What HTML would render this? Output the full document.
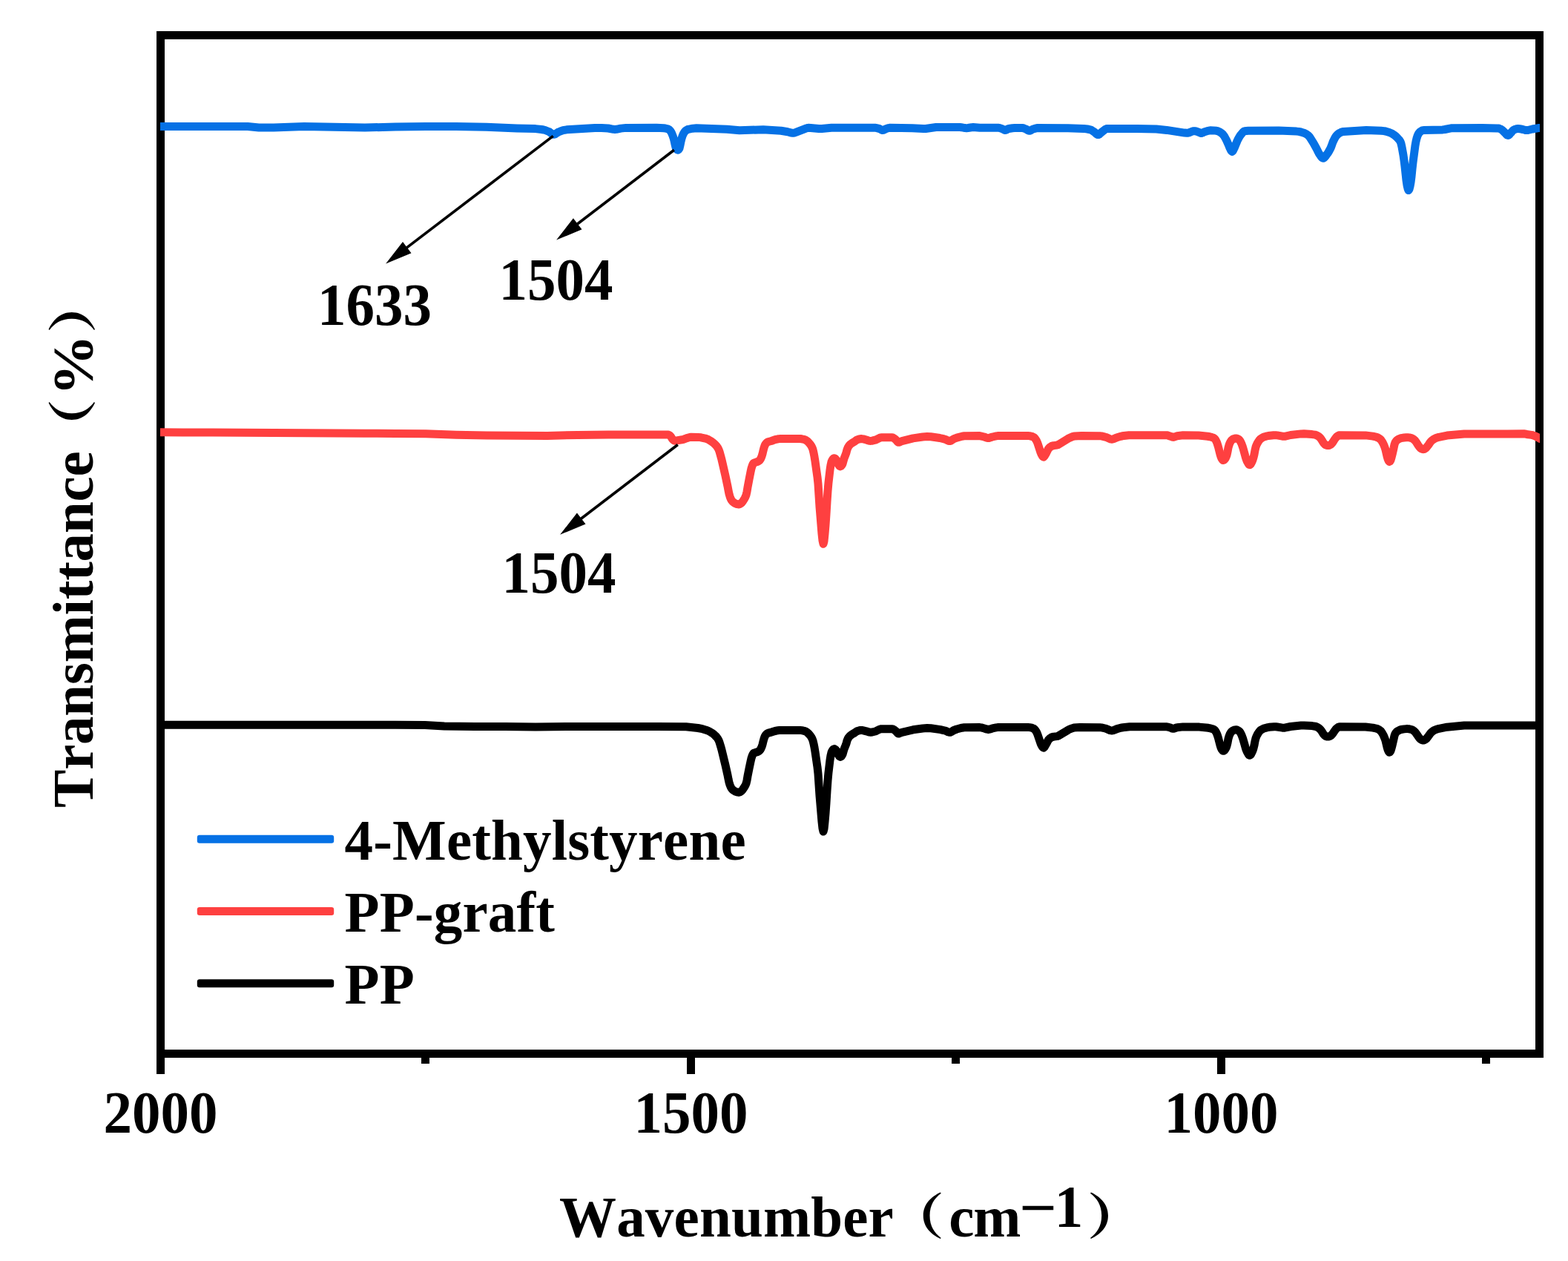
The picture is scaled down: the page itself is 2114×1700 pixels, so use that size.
<!DOCTYPE html>
<html lang="en">
<head>
<meta charset="utf-8">
<title>FTIR spectra</title>
<style>
html,body{margin:0;padding:0;background:#fff;}
body{width:2114px;height:1700px;overflow:hidden;}
svg{display:block;}
text{font-family:"Liberation Serif","Noto Serif CJK SC",serif;font-weight:bold;font-size:77px;fill:#000;font-kerning:none;font-variant-ligatures:none;white-space:pre;}
.cjk{font-family:"Noto Serif CJK SC","Liberation Serif",serif;font-weight:900;}
.curve{fill:none;stroke-width:11;stroke-linejoin:round;stroke-linecap:butt;}
</style>
</head>
<body>
<svg width="2114" height="1700" viewBox="0 0 2114 1700">
<rect x="0" y="0" width="2114" height="1700" fill="#fff"/>

<g fill="#000" shape-rendering="crispEdges">
<rect x="211" y="42" width="1870" height="11"/>
<rect x="211" y="1415" width="1870" height="11"/>
<rect x="211" y="42" width="11" height="1406"/>
<rect x="2070" y="42" width="11" height="1384"/>
<rect x="926" y="1415" width="11" height="33"/>
<rect x="1641" y="1415" width="11" height="33"/>
<rect x="568" y="1415" width="11" height="19"/>
<rect x="1283" y="1415" width="11" height="19"/>
<rect x="1998" y="1415" width="11" height="19"/>
</g>
<clipPath id="plotclip"><rect x="216" y="53" width="1860" height="1362"/></clipPath>
<g clip-path="url(#plotclip)">
<path class="curve" stroke="#000" d="M205.0,977.3 L246.0,977.3 L287.0,977.3 L328.0,977.3 L369.0,977.3 L410.0,977.3 L451.0,977.3 L492.0,977.3 L533.0,977.3 L573.0,977.4 L599.0,979.0 L640.0,979.4 L681.0,979.6 L722.0,980.1 L763.0,979.4 L804.0,979.4 L845.0,979.5 L886.0,979.6 L925.0,979.8 L941.0,981.5 L947.0,982.7 L952.0,984.2 L954.0,984.9 L957.0,986.4 L960.0,988.2 L962.0,989.7 L964.0,991.5 L966.0,993.5 L967.0,994.8 L968.0,996.3 L969.0,998.1 L970.0,1000.7 L972.0,1007.4 L973.0,1011.0 L978.0,1031.6 L981.0,1045.0 L982.0,1050.2 L983.0,1054.8 L984.0,1058.0 L985.0,1060.6 L986.0,1062.5 L987.0,1063.8 L988.0,1064.8 L989.0,1065.6 L991.0,1066.8 L992.0,1067.3 L994.0,1067.9 L995.0,1068.1 L996.0,1068.2 L997.0,1068.1 L998.0,1067.6 L1000.0,1066.1 L1001.0,1064.9 L1004.0,1060.4 L1005.0,1058.6 L1006.0,1056.2 L1007.0,1052.0 L1008.0,1046.2 L1010.0,1036.2 L1012.0,1026.6 L1013.0,1022.2 L1014.0,1019.2 L1015.0,1016.9 L1016.0,1015.5 L1017.0,1015.0 L1020.0,1014.1 L1022.0,1013.3 L1023.0,1012.7 L1024.0,1012.0 L1025.0,1010.8 L1026.0,1009.0 L1027.0,1006.8 L1028.0,1003.6 L1029.0,999.5 L1030.0,995.9 L1031.0,993.1 L1032.0,991.2 L1033.0,990.0 L1034.0,989.1 L1035.0,988.5 L1036.0,988.1 L1040.0,987.1 L1045.0,985.5 L1049.0,984.7 L1051.0,984.4 L1079.0,984.4 L1081.0,984.6 L1084.0,985.3 L1086.0,986.0 L1087.0,986.5 L1088.0,987.1 L1089.0,988.0 L1091.0,990.0 L1092.0,991.2 L1093.0,992.5 L1094.0,994.0 L1095.0,996.0 L1096.0,998.6 L1097.0,1002.7 L1098.0,1007.7 L1099.0,1013.6 L1102.0,1034.2 L1103.0,1043.1 L1105.0,1072.7 L1108.0,1108.0 L1109.0,1116.8 L1110.0,1121.1 L1111.0,1117.4 L1112.0,1108.0 L1113.0,1096.6 L1114.0,1082.3 L1115.0,1066.2 L1116.0,1052.2 L1117.0,1041.3 L1119.0,1024.7 L1120.0,1018.5 L1121.0,1014.3 L1122.0,1012.1 L1123.0,1010.7 L1124.0,1009.8 L1125.0,1009.6 L1126.0,1010.2 L1127.0,1011.2 L1128.0,1012.5 L1129.0,1014.6 L1130.0,1017.1 L1131.0,1018.7 L1132.0,1019.9 L1133.0,1020.4 L1134.0,1019.9 L1135.0,1018.7 L1136.0,1016.9 L1138.0,1010.0 L1140.0,1005.0 L1141.0,1002.3 L1142.0,998.5 L1143.0,996.1 L1144.0,994.4 L1145.0,993.1 L1146.0,992.0 L1147.0,991.2 L1149.0,989.8 L1152.0,988.1 L1154.0,986.6 L1155.0,986.0 L1156.0,985.5 L1158.0,984.9 L1160.0,984.5 L1161.0,984.4 L1162.0,984.4 L1164.0,984.8 L1168.0,985.8 L1171.0,986.8 L1172.0,987.0 L1173.0,987.2 L1174.0,987.2 L1176.0,987.0 L1180.0,986.0 L1181.0,985.7 L1186.0,983.2 L1187.0,982.9 L1188.0,982.7 L1203.0,982.7 L1204.0,983.0 L1205.0,983.6 L1207.0,985.0 L1208.0,985.9 L1210.0,988.2 L1211.0,988.9 L1212.0,988.9 L1213.0,988.6 L1215.0,987.7 L1216.0,987.3 L1231.0,983.8 L1244.0,982.0 L1250.0,981.6 L1255.0,981.8 L1268.0,983.6 L1274.0,985.0 L1275.0,985.3 L1278.0,986.7 L1279.0,987.0 L1280.0,987.3 L1281.0,987.3 L1282.0,986.9 L1283.0,986.4 L1285.0,985.0 L1286.0,984.5 L1290.0,983.0 L1297.0,981.2 L1300.0,980.7 L1321.0,980.6 L1323.0,980.9 L1327.0,982.0 L1330.0,983.0 L1331.0,983.2 L1332.0,983.4 L1333.0,983.4 L1334.0,983.2 L1338.0,981.9 L1343.0,980.9 L1345.0,980.6 L1386.0,980.4 L1388.0,980.6 L1391.0,981.2 L1392.0,981.6 L1393.0,982.0 L1394.0,982.5 L1395.0,983.4 L1396.0,984.6 L1397.0,986.2 L1398.0,988.0 L1399.0,990.5 L1403.0,1002.2 L1404.0,1004.5 L1405.0,1006.2 L1406.0,1007.6 L1407.0,1008.1 L1408.0,1007.3 L1410.0,1004.0 L1411.0,1002.2 L1413.0,998.2 L1414.0,996.8 L1415.0,995.9 L1416.0,995.1 L1417.0,994.4 L1418.0,993.8 L1419.0,993.5 L1421.0,993.1 L1425.0,992.6 L1426.0,992.4 L1427.0,992.0 L1440.0,984.2 L1442.0,983.2 L1446.0,981.7 L1448.0,981.1 L1456.0,980.5 L1483.0,980.7 L1485.0,980.9 L1490.0,982.0 L1491.0,982.3 L1496.0,984.4 L1497.0,984.7 L1498.0,984.9 L1499.0,985.0 L1500.0,984.9 L1501.0,984.7 L1503.0,983.9 L1506.0,982.6 L1511.0,981.2 L1514.0,980.7 L1523.0,979.8 L1564.0,979.7 L1572.0,979.7 L1573.0,979.8 L1575.0,980.2 L1578.0,981.1 L1580.0,982.0 L1581.0,982.2 L1582.0,982.3 L1583.0,982.1 L1586.0,981.0 L1587.0,980.8 L1595.0,979.9 L1617.0,980.1 L1629.0,981.3 L1632.0,981.9 L1635.0,982.8 L1636.0,983.2 L1637.0,983.8 L1638.0,984.7 L1639.0,986.1 L1640.0,988.0 L1641.0,990.2 L1642.0,993.3 L1643.0,996.8 L1645.0,1004.6 L1646.0,1007.7 L1647.0,1010.0 L1648.0,1011.4 L1649.0,1012.3 L1650.0,1012.2 L1651.0,1011.3 L1652.0,1010.0 L1653.0,1008.2 L1654.0,1005.6 L1655.0,1001.4 L1656.0,996.0 L1657.0,992.6 L1658.0,990.0 L1659.0,988.2 L1660.0,986.8 L1661.0,985.7 L1662.0,985.0 L1664.0,984.2 L1665.0,984.0 L1666.0,983.8 L1667.0,983.8 L1668.0,984.1 L1669.0,984.6 L1670.0,985.2 L1671.0,985.9 L1672.0,987.3 L1673.0,989.0 L1674.0,991.1 L1675.0,993.8 L1676.0,996.8 L1679.0,1007.3 L1680.0,1010.5 L1681.0,1013.0 L1682.0,1014.9 L1683.0,1016.7 L1684.0,1017.9 L1685.0,1018.3 L1686.0,1017.6 L1687.0,1016.1 L1688.0,1014.1 L1689.0,1011.8 L1690.0,1008.7 L1691.0,1004.7 L1692.0,999.3 L1693.0,995.2 L1694.0,992.6 L1695.0,990.6 L1696.0,988.9 L1697.0,987.3 L1698.0,986.0 L1699.0,984.9 L1700.0,984.1 L1702.0,983.0 L1704.0,982.1 L1708.0,980.9 L1711.0,980.3 L1718.0,979.7 L1720.0,979.7 L1722.0,980.0 L1729.0,981.2 L1731.0,981.3 L1732.0,981.2 L1740.0,979.5 L1754.0,978.0 L1758.0,977.9 L1769.0,978.6 L1773.0,979.2 L1774.0,979.4 L1775.0,979.8 L1777.0,980.9 L1778.0,981.5 L1779.0,982.3 L1780.0,983.3 L1781.0,984.5 L1782.0,985.9 L1784.0,989.2 L1785.0,990.4 L1786.0,991.5 L1787.0,992.3 L1788.0,992.7 L1789.0,993.0 L1790.0,993.1 L1791.0,993.0 L1792.0,992.8 L1793.0,992.5 L1794.0,991.9 L1795.0,991.1 L1796.0,990.0 L1797.0,988.8 L1799.0,985.7 L1801.0,983.0 L1802.0,981.9 L1804.0,980.5 L1805.0,980.0 L1806.0,979.7 L1841.0,980.0 L1851.0,981.1 L1855.0,982.0 L1857.0,982.6 L1858.0,983.0 L1859.0,983.6 L1860.0,984.2 L1861.0,985.0 L1862.0,986.0 L1863.0,987.5 L1864.0,989.1 L1865.0,990.9 L1866.0,993.1 L1867.0,995.6 L1868.0,998.6 L1870.0,1007.0 L1871.0,1010.5 L1872.0,1012.8 L1873.0,1014.2 L1874.0,1013.8 L1875.0,1012.1 L1876.0,1008.9 L1877.0,1005.1 L1879.0,996.6 L1880.0,991.9 L1881.0,989.2 L1882.0,987.7 L1883.0,986.6 L1884.0,985.8 L1886.0,984.7 L1888.0,983.8 L1889.0,983.5 L1893.0,982.9 L1896.0,982.6 L1898.0,982.6 L1900.0,982.8 L1903.0,983.5 L1904.0,983.9 L1905.0,984.5 L1906.0,985.2 L1908.0,987.0 L1909.0,988.3 L1912.0,992.7 L1914.0,995.4 L1915.0,996.4 L1916.0,997.1 L1917.0,997.6 L1918.0,998.0 L1919.0,998.1 L1920.0,997.9 L1921.0,997.4 L1922.0,996.8 L1923.0,996.0 L1926.0,992.2 L1928.0,989.3 L1929.0,988.0 L1930.0,987.1 L1932.0,985.5 L1934.0,984.3 L1936.0,983.5 L1940.0,982.3 L1951.0,980.2 L1974.0,978.1 L2015.0,978.1 L2056.0,977.9 L2090.0,977.9"/>
<path class="curve" stroke="#fe4040" d="M205.0,582.7 L246.0,583.0 L287.0,583.1 L328.0,583.3 L369.0,583.5 L410.0,583.7 L451.0,584.0 L492.0,584.2 L533.0,584.5 L574.0,584.8 L615.0,586.3 L656.0,586.9 L697.0,587.3 L738.0,587.4 L779.0,586.4 L820.0,586.1 L861.0,585.9 L901.0,586.1 L902.0,586.4 L903.0,587.1 L904.0,588.0 L905.0,589.4 L906.0,591.2 L907.0,592.5 L908.0,593.2 L909.0,593.9 L910.0,594.2 L911.0,594.2 L921.0,592.5 L922.0,592.2 L926.0,590.6 L930.0,589.5 L932.0,589.2 L941.0,589.4 L945.0,589.8 L951.0,591.1 L953.0,591.7 L955.0,592.6 L959.0,595.0 L961.0,596.4 L963.0,598.1 L965.0,600.1 L966.0,601.2 L967.0,602.6 L968.0,604.1 L969.0,606.1 L970.0,608.8 L972.0,615.9 L973.0,619.7 L978.0,641.4 L981.0,655.6 L982.0,661.0 L983.0,665.9 L984.0,669.3 L985.0,672.0 L986.0,674.0 L987.0,675.4 L988.0,676.5 L989.0,677.3 L990.0,678.0 L991.0,678.6 L992.0,679.0 L994.0,679.7 L995.0,679.9 L996.0,680.0 L997.0,679.9 L998.0,679.3 L999.0,678.6 L1000.0,677.8 L1001.0,676.6 L1004.0,671.8 L1005.0,669.9 L1006.0,667.3 L1007.0,662.9 L1008.0,656.9 L1010.0,646.2 L1012.0,636.1 L1013.0,631.5 L1014.0,628.4 L1015.0,625.9 L1016.0,624.4 L1017.0,623.9 L1020.0,622.9 L1022.0,622.1 L1023.0,621.5 L1024.0,620.7 L1025.0,619.5 L1026.0,617.6 L1027.0,615.2 L1028.0,611.9 L1029.0,607.5 L1030.0,603.7 L1031.0,600.8 L1032.0,598.8 L1033.0,597.5 L1034.0,596.6 L1035.0,595.9 L1036.0,595.5 L1040.0,594.5 L1045.0,592.7 L1049.0,591.8 L1051.0,591.6 L1079.0,591.5 L1081.0,591.8 L1084.0,592.4 L1086.0,593.2 L1087.0,593.7 L1088.0,594.4 L1089.0,595.2 L1091.0,597.4 L1092.0,598.6 L1093.0,599.9 L1094.0,601.5 L1095.0,603.5 L1096.0,606.2 L1097.0,610.5 L1098.0,615.8 L1099.0,621.9 L1102.0,643.2 L1103.0,652.4 L1105.0,683.2 L1108.0,719.7 L1109.0,728.9 L1110.0,733.3 L1111.0,729.5 L1112.0,719.7 L1113.0,707.9 L1114.0,693.1 L1115.0,676.3 L1116.0,661.9 L1117.0,650.5 L1119.0,633.4 L1120.0,626.9 L1121.0,622.5 L1122.0,620.3 L1123.0,618.8 L1124.0,617.9 L1125.0,617.7 L1126.0,618.3 L1127.0,619.4 L1128.0,620.7 L1129.0,622.8 L1130.0,625.4 L1131.0,627.1 L1132.0,628.4 L1133.0,628.9 L1134.0,628.3 L1135.0,627.1 L1136.0,625.3 L1138.0,618.1 L1140.0,613.0 L1141.0,610.1 L1142.0,606.2 L1143.0,603.7 L1144.0,601.9 L1145.0,600.5 L1146.0,599.4 L1147.0,598.5 L1149.0,597.2 L1152.0,595.3 L1154.0,593.8 L1155.0,593.2 L1156.0,592.7 L1158.0,592.1 L1160.0,591.6 L1161.0,591.5 L1162.0,591.6 L1164.0,591.9 L1168.0,593.0 L1171.0,594.0 L1172.0,594.3 L1173.0,594.4 L1174.0,594.4 L1176.0,594.2 L1180.0,593.2 L1181.0,592.9 L1186.0,590.3 L1187.0,590.0 L1188.0,589.8 L1203.0,589.8 L1204.0,590.1 L1205.0,590.7 L1207.0,592.2 L1208.0,593.1 L1210.0,595.5 L1211.0,596.2 L1212.0,596.3 L1213.0,595.9 L1215.0,595.0 L1216.0,594.6 L1231.0,590.9 L1244.0,589.0 L1250.0,588.6 L1255.0,588.8 L1267.0,590.5 L1273.0,591.9 L1275.0,592.5 L1278.0,593.9 L1279.0,594.3 L1280.0,594.5 L1281.0,594.5 L1282.0,594.2 L1283.0,593.6 L1285.0,592.2 L1286.0,591.6 L1290.0,590.1 L1297.0,588.2 L1300.0,587.7 L1321.0,587.6 L1322.0,587.8 L1327.0,589.0 L1330.0,590.1 L1331.0,590.3 L1332.0,590.5 L1333.0,590.5 L1334.0,590.3 L1338.0,589.0 L1343.0,587.9 L1345.0,587.6 L1386.0,587.4 L1388.0,587.6 L1391.0,588.3 L1392.0,588.6 L1393.0,589.1 L1394.0,589.6 L1395.0,590.5 L1396.0,591.8 L1397.0,593.4 L1398.0,595.3 L1399.0,597.8 L1403.0,610.0 L1404.0,612.4 L1405.0,614.2 L1406.0,615.6 L1407.0,616.1 L1408.0,615.3 L1410.0,611.9 L1411.0,610.0 L1413.0,605.8 L1414.0,604.4 L1415.0,603.4 L1416.0,602.6 L1417.0,601.9 L1418.0,601.3 L1419.0,601.0 L1421.0,600.6 L1425.0,600.1 L1426.0,599.8 L1427.0,599.4 L1440.0,591.4 L1442.0,590.3 L1446.0,588.7 L1448.0,588.2 L1449.0,588.0 L1458.0,587.4 L1483.0,587.7 L1485.0,587.9 L1490.0,589.1 L1491.0,589.3 L1496.0,591.5 L1497.0,591.9 L1498.0,592.1 L1499.0,592.2 L1500.0,592.1 L1501.0,591.8 L1503.0,591.1 L1506.0,589.7 L1511.0,588.3 L1513.0,587.8 L1522.0,586.8 L1563.0,586.7 L1572.0,586.7 L1573.0,586.7 L1575.0,587.2 L1578.0,588.2 L1580.0,589.0 L1581.0,589.3 L1582.0,589.4 L1583.0,589.2 L1586.0,588.1 L1587.0,587.8 L1595.0,586.8 L1616.0,587.0 L1628.0,588.2 L1631.0,588.7 L1634.0,589.6 L1636.0,590.3 L1637.0,590.9 L1638.0,591.8 L1639.0,593.3 L1640.0,595.2 L1641.0,597.6 L1642.0,600.8 L1643.0,604.4 L1645.0,612.4 L1646.0,615.7 L1647.0,618.1 L1648.0,619.5 L1649.0,620.5 L1650.0,620.4 L1651.0,619.4 L1652.0,618.1 L1653.0,616.2 L1654.0,613.5 L1655.0,609.1 L1656.0,603.6 L1657.0,600.0 L1658.0,597.3 L1659.0,595.5 L1660.0,594.0 L1661.0,592.9 L1662.0,592.2 L1664.0,591.4 L1665.0,591.1 L1666.0,590.9 L1667.0,591.0 L1668.0,591.3 L1669.0,591.7 L1670.0,592.3 L1671.0,593.1 L1672.0,594.5 L1673.0,596.4 L1674.0,598.5 L1675.0,601.3 L1676.0,604.4 L1679.0,615.3 L1680.0,618.6 L1681.0,621.2 L1682.0,623.2 L1683.0,625.0 L1684.0,626.3 L1685.0,626.7 L1686.0,626.0 L1687.0,624.4 L1688.0,622.3 L1689.0,620.0 L1690.0,616.7 L1691.0,612.6 L1692.0,607.0 L1693.0,602.7 L1694.0,600.0 L1695.0,597.9 L1696.0,596.2 L1697.0,594.6 L1698.0,593.2 L1699.0,592.1 L1700.0,591.3 L1702.0,590.0 L1704.0,589.1 L1707.0,588.2 L1710.0,587.5 L1717.0,586.7 L1720.0,586.7 L1722.0,586.9 L1729.0,588.2 L1731.0,588.3 L1732.0,588.3 L1740.0,586.5 L1754.0,584.9 L1758.0,584.8 L1769.0,585.6 L1773.0,586.1 L1774.0,586.4 L1775.0,586.8 L1777.0,587.9 L1778.0,588.5 L1779.0,589.4 L1780.0,590.4 L1781.0,591.7 L1782.0,593.1 L1784.0,596.5 L1785.0,597.8 L1786.0,598.9 L1787.0,599.7 L1788.0,600.1 L1789.0,600.4 L1790.0,600.6 L1791.0,600.5 L1792.0,600.3 L1793.0,599.9 L1794.0,599.4 L1795.0,598.5 L1796.0,597.4 L1797.0,596.1 L1799.0,592.9 L1801.0,590.1 L1802.0,589.0 L1804.0,587.5 L1805.0,586.9 L1806.0,586.7 L1841.0,586.9 L1851.0,588.1 L1855.0,589.0 L1857.0,589.7 L1858.0,590.1 L1859.0,590.7 L1860.0,591.4 L1861.0,592.2 L1862.0,593.2 L1863.0,594.7 L1864.0,596.4 L1865.0,598.3 L1866.0,600.5 L1867.0,603.1 L1868.0,606.2 L1870.0,615.0 L1871.0,618.6 L1872.0,621.0 L1873.0,622.4 L1874.0,622.0 L1875.0,620.3 L1876.0,616.9 L1877.0,613.0 L1879.0,604.2 L1880.0,599.3 L1881.0,596.5 L1882.0,595.0 L1883.0,593.8 L1884.0,593.0 L1886.0,591.8 L1888.0,590.9 L1889.0,590.6 L1893.0,590.0 L1896.0,589.7 L1898.0,589.7 L1900.0,589.9 L1903.0,590.6 L1904.0,591.0 L1905.0,591.6 L1906.0,592.4 L1908.0,594.2 L1909.0,595.6 L1912.0,600.2 L1914.0,602.9 L1915.0,604.0 L1916.0,604.7 L1917.0,605.3 L1918.0,605.6 L1919.0,605.7 L1920.0,605.5 L1921.0,605.0 L1922.0,604.4 L1923.0,603.5 L1926.0,599.6 L1928.0,596.6 L1929.0,595.3 L1930.0,594.3 L1932.0,592.7 L1934.0,591.5 L1936.0,590.6 L1940.0,589.3 L1951.0,587.1 L1974.0,585.0 L2015.0,585.0 L2055.0,584.8 L2056.0,584.9 L2060.0,585.8 L2065.0,586.4 L2067.0,586.9 L2070.0,588.0 L2073.0,589.5 L2075.0,590.6 L2076.0,591.3 L2077.0,591.7 L2082.0,593.0 L2086.0,593.7 L2089.0,594.0 L2090.0,594.0"/>
<path class="curve" stroke="#0571e5" d="M205.0,170.4 L246.0,170.4 L287.0,170.4 L328.0,170.4 L334.0,170.5 L349.0,171.9 L369.0,171.9 L410.0,170.6 L451.0,171.2 L492.0,172.0 L533.0,171.1 L574.0,170.4 L615.0,170.5 L656.0,171.3 L697.0,173.0 L722.0,173.6 L730.0,174.5 L733.0,175.0 L735.0,175.5 L740.0,177.5 L741.0,178.0 L744.0,180.3 L745.0,180.9 L746.0,181.2 L747.0,181.3 L748.0,181.0 L749.0,180.5 L752.0,178.5 L753.0,178.0 L757.0,176.4 L759.0,175.7 L764.0,174.8 L802.0,172.4 L811.0,172.4 L820.0,173.0 L827.0,174.3 L829.0,174.4 L831.0,174.3 L837.0,173.1 L844.0,172.4 L885.0,172.3 L895.0,172.8 L897.0,173.0 L899.0,173.5 L901.0,174.1 L902.0,174.7 L903.0,175.6 L904.0,176.7 L905.0,178.3 L906.0,180.5 L907.0,183.0 L908.0,185.9 L909.0,189.6 L910.0,194.4 L911.0,198.6 L912.0,200.9 L913.0,202.1 L914.0,202.2 L915.0,201.4 L916.0,199.9 L917.0,195.7 L918.0,190.7 L919.0,186.6 L920.0,183.5 L921.0,181.1 L922.0,179.2 L923.0,177.7 L924.0,176.6 L925.0,175.8 L926.0,175.2 L927.0,174.6 L928.0,174.3 L934.0,173.2 L939.0,172.8 L980.0,174.3 L997.0,175.8 L1029.0,174.7 L1053.0,176.3 L1062.0,177.8 L1067.0,179.1 L1068.0,179.2 L1069.0,179.3 L1070.0,179.2 L1071.0,179.1 L1073.0,178.4 L1086.0,173.3 L1088.0,172.7 L1089.0,172.5 L1090.0,172.3 L1093.0,172.4 L1104.0,173.4 L1108.0,173.5 L1121.0,172.3 L1162.0,172.3 L1180.0,172.3 L1181.0,172.4 L1183.0,172.8 L1185.0,173.3 L1186.0,173.7 L1188.0,174.8 L1189.0,175.3 L1190.0,175.5 L1191.0,175.4 L1192.0,175.0 L1194.0,173.9 L1195.0,173.5 L1198.0,172.6 L1200.0,172.3 L1230.0,172.8 L1245.0,173.6 L1248.0,173.5 L1262.0,171.5 L1294.0,171.4 L1296.0,171.7 L1301.0,172.6 L1303.0,172.7 L1305.0,172.5 L1310.0,171.7 L1312.0,171.6 L1321.0,172.3 L1346.0,172.3 L1347.0,172.4 L1348.0,172.6 L1351.0,173.7 L1354.0,175.2 L1355.0,175.5 L1356.0,175.4 L1357.0,175.0 L1359.0,173.8 L1360.0,173.5 L1365.0,172.7 L1368.0,172.5 L1378.0,172.5 L1379.0,172.5 L1380.0,172.8 L1383.0,174.0 L1384.0,174.5 L1386.0,175.7 L1387.0,176.1 L1388.0,176.3 L1389.0,176.1 L1390.0,175.6 L1392.0,174.4 L1393.0,174.0 L1397.0,172.9 L1399.0,172.5 L1440.0,172.7 L1461.0,173.4 L1466.0,174.0 L1470.0,174.8 L1471.0,175.2 L1472.0,175.7 L1476.0,178.4 L1478.0,180.3 L1479.0,181.2 L1480.0,181.6 L1481.0,181.6 L1482.0,181.1 L1483.0,180.2 L1485.0,178.4 L1489.0,175.2 L1490.0,174.5 L1491.0,173.9 L1492.0,173.6 L1533.0,173.4 L1559.0,174.1 L1573.0,175.4 L1597.0,179.1 L1600.0,179.3 L1601.0,179.3 L1602.0,179.1 L1603.0,178.9 L1607.0,177.2 L1608.0,176.9 L1609.0,176.7 L1610.0,176.6 L1611.0,176.7 L1614.0,177.4 L1615.0,177.7 L1618.0,179.1 L1619.0,179.4 L1620.0,179.4 L1621.0,179.1 L1624.0,177.8 L1629.0,176.3 L1631.0,175.9 L1632.0,175.8 L1636.0,175.9 L1640.0,176.3 L1641.0,176.5 L1642.0,176.8 L1644.0,177.7 L1645.0,178.2 L1646.0,178.9 L1647.0,179.6 L1648.0,180.5 L1649.0,181.5 L1650.0,182.8 L1651.0,184.3 L1653.0,188.0 L1654.0,190.0 L1657.0,196.9 L1658.0,199.4 L1659.0,201.5 L1660.0,203.3 L1661.0,204.4 L1662.0,203.6 L1663.0,201.9 L1664.0,199.9 L1668.0,190.1 L1669.0,188.0 L1671.0,184.4 L1672.0,182.8 L1675.0,179.1 L1676.0,178.0 L1677.0,177.2 L1678.0,176.8 L1683.0,176.3 L1724.0,176.0 L1748.0,177.1 L1751.0,177.4 L1754.0,178.0 L1757.0,178.9 L1759.0,179.7 L1761.0,180.7 L1763.0,182.0 L1764.0,182.8 L1765.0,183.8 L1766.0,185.1 L1771.0,193.1 L1775.0,200.4 L1778.0,206.4 L1779.0,208.0 L1781.0,210.9 L1782.0,212.2 L1783.0,213.0 L1784.0,213.3 L1785.0,212.9 L1786.0,212.0 L1787.0,210.8 L1790.0,206.6 L1791.0,205.1 L1792.0,203.4 L1794.0,199.6 L1795.0,197.1 L1797.0,191.5 L1799.0,187.4 L1800.0,185.5 L1801.0,183.9 L1802.0,182.6 L1803.0,181.6 L1804.0,180.7 L1805.0,179.9 L1806.0,179.3 L1808.0,178.3 L1810.0,177.6 L1811.0,177.4 L1842.0,175.6 L1862.0,176.2 L1866.0,176.6 L1868.0,177.0 L1873.0,178.5 L1876.0,179.8 L1878.0,180.9 L1880.0,182.3 L1882.0,183.9 L1884.0,185.9 L1886.0,188.1 L1887.0,189.3 L1888.0,190.9 L1889.0,193.7 L1890.0,198.1 L1892.0,209.3 L1893.0,216.2 L1894.0,224.2 L1896.0,242.9 L1897.0,249.7 L1898.0,254.1 L1899.0,256.6 L1900.0,255.0 L1901.0,251.4 L1902.0,245.7 L1903.0,238.0 L1904.0,227.8 L1905.0,219.0 L1908.0,196.3 L1909.0,190.6 L1910.0,186.5 L1911.0,183.3 L1912.0,181.1 L1913.0,179.4 L1914.0,178.2 L1915.0,177.4 L1916.0,176.7 L1917.0,176.1 L1918.0,175.7 L1919.0,175.6 L1945.0,174.9 L1948.0,174.5 L1955.0,173.1 L1957.0,172.8 L1998.0,172.5 L2019.0,172.9 L2020.0,173.0 L2021.0,173.2 L2023.0,174.0 L2024.0,174.5 L2025.0,175.1 L2026.0,176.0 L2029.0,179.0 L2031.0,181.3 L2032.0,182.1 L2033.0,182.5 L2034.0,182.2 L2035.0,181.3 L2037.0,179.0 L2038.0,178.0 L2040.0,175.7 L2041.0,175.0 L2043.0,174.2 L2044.0,173.9 L2045.0,173.6 L2046.0,173.5 L2047.0,173.5 L2049.0,173.7 L2053.0,174.5 L2056.0,175.3 L2057.0,175.5 L2058.0,175.6 L2059.0,175.6 L2060.0,175.5 L2066.0,174.0 L2074.0,172.6 L2087.0,171.6 L2090.0,171.5"/>
</g>
<line x1="745.7" y1="183.4" x2="547.1" y2="334.9" stroke="#000" stroke-width="3.7"/><polygon points="520.1,355.5 543.0,326.1 554.5,341.2" fill="#000"/>
<line x1="908.8" y1="202.3" x2="777.1" y2="303.0" stroke="#000" stroke-width="3.7"/><polygon points="750.1,323.6 772.9,294.2 784.5,309.3" fill="#000"/>
<line x1="913.8" y1="599.5" x2="782.1" y2="700.2" stroke="#000" stroke-width="3.7"/><polygon points="755.1,720.8 777.9,691.4 789.5,706.5" fill="#000"/>
<text transform="translate(428.00,438.00) scale(1.0,1.031)">1633</text>
<text transform="translate(672.50,404.00) scale(1.0,1.031)">1504</text>
<text transform="translate(676.50,799.00) scale(1.0,1.031)">1504</text>
<rect x="265.8" y="1125.8" width="184.4" height="11" rx="3.2" ry="3.2" fill="#0571e5"/>
<text transform="translate(464.60,1158.80) scale(1.0,1.008)" letter-spacing="0.16">4-Methylstyrene</text>
<rect x="265.8" y="1223.0" width="184.4" height="11" rx="3.2" ry="3.2" fill="#fe4040"/>
<text transform="translate(464.60,1255.70) scale(1.0,1.008)" letter-spacing="0.16">PP-graft</text>
<rect x="265.8" y="1320.2" width="184.4" height="11" rx="3.2" ry="3.2" fill="#000"/>
<text transform="translate(464.60,1352.60) scale(1.0,1.008)" letter-spacing="0.16">PP</text>
<text transform="translate(216.50,1527.00) scale(1.0,1.031)" text-anchor="middle">2000</text>
<text transform="translate(931.50,1527.00) scale(1.0,1.031)" text-anchor="middle">1500</text>
<text transform="translate(1646.50,1527.00) scale(1.0,1.031)" text-anchor="middle">1000</text>
<g>
<text transform="translate(754.00,1667.00) scale(1.0,1.008)" letter-spacing="0.19">Wavenumber</text>
<text transform="translate(1194.80,1663.95) scale(1.02,0.854)" class="cjk">（</text>
<text transform="translate(1279.30,1667.00) scale(1.0,1.008)" letter-spacing="-1.2">cm</text>
<text transform="translate(1374.10,1654.40) scale(1.16,1.0)">−</text>
<text transform="translate(1421.80,1654.40) scale(1.0,1.031)">1</text>
<text transform="translate(1465.50,1663.95) scale(1.02,0.854)" class="cjk">）</text>
</g>
<g transform="translate(125,1089) rotate(-90)">
<text transform="translate(0.00,0.00) scale(1.0,1.008)" letter-spacing="-0.22">Transmittance</text>
<text transform="translate(472.90,-3.05) scale(1.02,0.854)" class="cjk">（</text>
<text transform="translate(555.50,0.00) scale(1.071,1.02)">%</text>
<text transform="translate(639.50,-3.05) scale(1.02,0.854)" class="cjk">）</text>
</g>
</svg>
</body>
</html>
